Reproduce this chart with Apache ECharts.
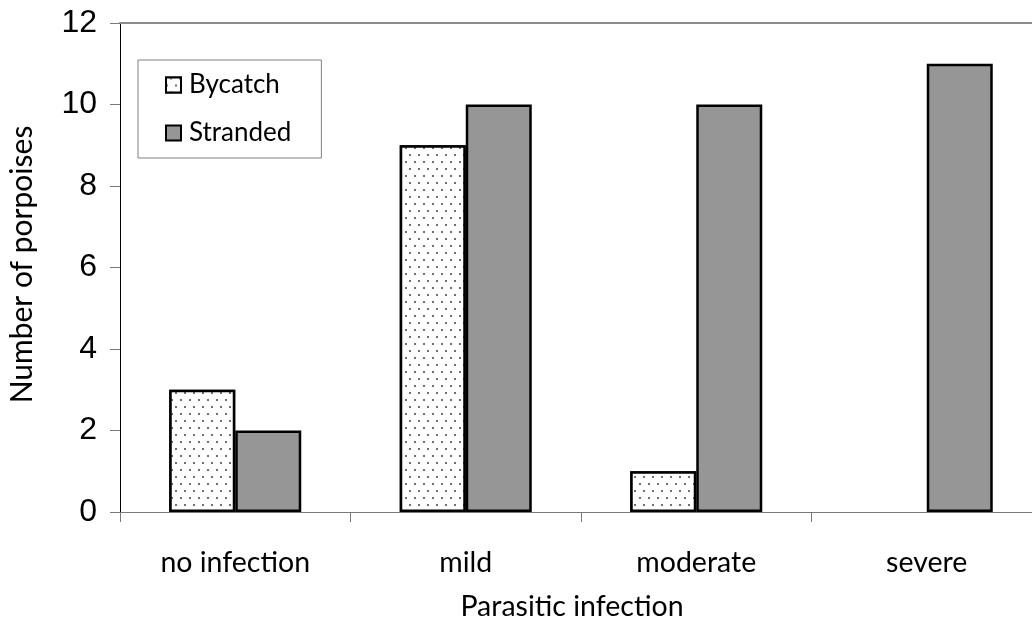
<!DOCTYPE html>
<html>
<head>
<meta charset="utf-8">
<script src="https://cdn.jsdelivr.net/npm/echarts@6/dist/echarts.min.js"></script>
<style>
html,body{margin:0;padding:0;background:#fff;overflow:hidden;}
#chart{width:1042px;height:622px;}
</style>
</head>
<body>
<div id="chart"></div>
<script>
const categories = ['no infection', 'mild', 'moderate', 'severe'];
const bycatch = [3, 9, 1, 0];
const stranded = [2, 10, 10, 11];
const yTicks = { min: 0, max: 12, interval: 2 };

const toItems = arr => arr.map(v => v === 0 ? { value: v, itemStyle: { borderWidth: 0 } } : v);

const chart = echarts.init(document.getElementById('chart'), null, { renderer: 'canvas' });
const calibri = 'Lato, "Open Sans", sans-serif';
chart.setOption({
  animation: false,
  backgroundColor: '#ffffff',
  grid: { left: 120, right: 0, top: 23, bottom: 110, outerBoundsMode: 'none', containLabel: false },
  legend: {
    orient: 'vertical',
    left: 138, top: 60,
    padding: [12, 30, 12, 27],
    itemGap: 22,
    itemWidth: 15, itemHeight: 15,
    borderColor: '#808080', borderWidth: 1,
    backgroundColor: '#fff',
    icon: 'rect',
    textStyle: { fontFamily: calibri, fontSize: 26, color: '#000', lineHeight: 26, padding: [0,0,0,3] },
    data: ['Bycatch', 'Stranded']
  },
  xAxis: [{
    type: 'category',
    data: categories,
    position: 'bottom',
    axisLine: { lineStyle: { color: '#7a7a7a', width: 1 } },
    axisTick: { show: true, length: 10, lineStyle: { color: '#7a7a7a' } },
    axisLabel: { fontFamily: calibri, fontSize: 28.5, color: '#000', margin: 36 },
    name: 'Parasitic infection',
    nameLocation: 'middle',
    nameGap: 80,
    nameTextStyle: { fontFamily: calibri, fontSize: 28.5, color: '#000', padding: [0, 18, 0, 0] }
  }, {
    type: 'category',
    data: categories,
    position: 'top',
    axisLine: { lineStyle: { color: '#8c8c8c', width: 2 } },
    axisTick: { show: false },
    axisLabel: { show: false }
  }],
  yAxis: {
    type: 'value',
    min: yTicks.min, max: yTicks.max, interval: yTicks.interval,
    axisLine: { show: true, lineStyle: { color: '#000', width: 1 } },
    axisTick: { show: true, length: 10, lineStyle: { color: '#7a7a7a' } },
    splitLine: { show: false },
    axisLabel: { fontFamily: '"Liberation Sans", Arial, sans-serif', fontSize: 32, color: '#000', margin: 23 },
    name: 'Number of porpoises',
    nameLocation: 'middle',
    nameGap: 83,
    nameTextStyle: { fontFamily: calibri, fontSize: 30, color: '#000', padding: [0, 0, 0, 6] }
  },
  series: [{
    name: 'Bycatch',
    type: 'bar',
    data: toItems(bycatch),
    barWidth: 66,
    barGap: '0%',
    itemStyle: {
      color: '#ffffff',
      borderColor: '#000',
      borderWidth: 2.5,
      decal: {
        symbol: 'circle',
        symbolSize: 1,
        color: '#404040',
        backgroundColor: '#ffffff',
        dashArrayX: [[1.5, 6.2], [0, 3.85, 1.5, 2.35]],
        dashArrayY: [1.5, 4.3]
      }
    }
  }, {
    name: 'Stranded',
    type: 'bar',
    data: toItems(stranded),
    barWidth: 66,
    barGap: '0%',
    itemStyle: { color: '#969696', borderColor: '#000', borderWidth: 2.5 }
  }]
});
</script>
</body>
</html>
